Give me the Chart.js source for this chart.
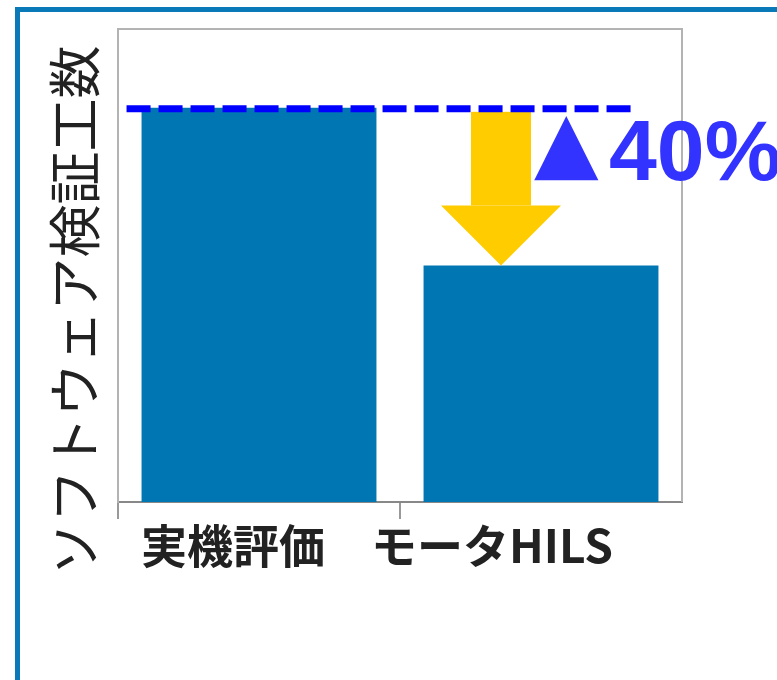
<!DOCTYPE html>
<html>
<head>
<meta charset="utf-8">
<script src="https://cdn.jsdelivr.net/npm/chart.js@4"></script>
<style>
  html, body { margin: 0; padding: 0; background: #fff; }
  #wrap { position: relative; width: 777px; height: 680px; overflow: hidden; }
  /* blue panel frame (left and top edge) */
  #frame { position: absolute; left: 15px; top: 7px; width: 800px; height: 700px;
           border-left: 5px solid #0a79b8; border-top: 5px solid #0a79b8; }
  #chart { position: absolute; left: 0; top: 0; }
</style>
</head>
<body>
<div id="wrap">
  <div id="frame"></div>
  <canvas id="chart" width="777" height="680"></canvas>
</div>
<script>
const categories = ['実機評価', 'モータHILS'];
const effort = [100, 60];
const axisMax = 120;
const yTitle = 'ソフトウェア検証工数';

const barBlue = '#0077b3';
const markBlue = '#0000ff';
const noteBlue = '#3333ff';
const arrowYellow = '#ffcc00';

// reduction from the first bar to the second, in percent
const reduction = Math.round((1 - effort[1] / effort[0]) * 100);

// frame on top/right, reference line, arrow, reduction note, labels, axis title
const overlay = {
  id: 'overlay',
  afterDatasetsDraw(chart) {
    const { ctx, chartArea: a, scales: { x, y } } = chart;
    const bars = chart.getDatasetMeta(0).data;
    const b0 = bars[0], b1 = bars[1];
    const refY = y.getPixelForValue(effort[0]);
    const lowY = y.getPixelForValue(effort[1]);

    ctx.save();
    // plot area border (top and right)
    ctx.strokeStyle = '#b3b3b3';
    ctx.lineWidth = 2;
    ctx.beginPath();
    ctx.moveTo(a.left, a.top);
    ctx.lineTo(a.right, a.top);
    ctx.lineTo(a.right, a.bottom);
    ctx.stroke();

    // arrow from the reference level down to the second bar
    const ax = b1.x - 40;
    const headTop = lowY - 60;
    ctx.fillStyle = arrowYellow;
    ctx.fillRect(ax - 30, refY + 4, 60, headTop - refY - 4);
    ctx.beginPath();
    ctx.moveTo(ax - 60, headTop);
    ctx.lineTo(ax + 60, headTop);
    ctx.lineTo(ax, lowY);
    ctx.closePath();
    ctx.fill();

    // dashed reference line at the first bar's height
    ctx.strokeStyle = markBlue;
    ctx.lineWidth = 7;
    ctx.setLineDash([24, 8]);
    ctx.beginPath();
    ctx.moveTo(b0.x - b0.width / 2 - 15, refY + 1);
    ctx.lineTo(b1.x + 90, refY + 1);
    ctx.stroke();
    ctx.setLineDash([]);

    // reduction note
    ctx.fillStyle = noteBlue;
    ctx.textBaseline = 'alphabetic';
    ctx.textAlign = 'left';
    ctx.font = '84px "DejaVu Sans"';
    ctx.fillText('▲', ax + 33, refY + 62);
    ctx.font = 'bold 86px "Liberation Sans"';
    ctx.fillText(reduction + '%', ax + 108, refY + 72);

    // category labels, pulled a little left of the tick centres
    const shift = [-26, -49];
    ctx.fillStyle = '#222';
    ctx.font = 'bold 46px "Noto Sans CJK JP"';
    ctx.textAlign = 'center';
    ctx.textBaseline = 'middle';
    categories.forEach((c, i) => {
      ctx.fillText(c, x.getPixelForTick(i) + shift[i], a.bottom + 44);
    });

    // y axis title
    ctx.font = '53px "Noto Sans CJK JP"';
    ctx.translate(a.left - 43, (a.top + a.bottom) / 2 + 45);
    ctx.rotate(-Math.PI / 2);
    ctx.fillText(yTitle, 0, 0);
    ctx.restore();
  }
};

new Chart(document.getElementById('chart'), {
  type: 'bar',
  data: {
    labels: categories,
    datasets: [{
      data: effort,
      backgroundColor: barBlue,
      borderWidth: 0,
      barPercentage: 1,
      categoryPercentage: 0.833
    }]
  },
  options: {
    responsive: false,
    animation: false,
    layout: { padding: { left: 118, top: 29, right: 95, bottom: 0 } },
    plugins: { legend: { display: false }, tooltip: { enabled: false } },
    scales: {
      x: {
        afterFit: s => { s.height = 178; },
        grid: {
          drawOnChartArea: false,
          tickLength: 17,
          lineWidth: 2,
          color: c => c.type === 'tick' ? '#999' : 'rgba(0,0,0,0)'
        },
        border: { color: '#888', width: 2 },
        ticks: { display: false }
      },
      y: {
        min: 0,
        max: axisMax,
        afterFit: s => { s.width = 0; },
        grid: { display: false },
        border: { color: '#b3b3b3', width: 2 },
        ticks: { display: false }
      }
    }
  },
  plugins: [overlay]
});
</script>
</body>
</html>
